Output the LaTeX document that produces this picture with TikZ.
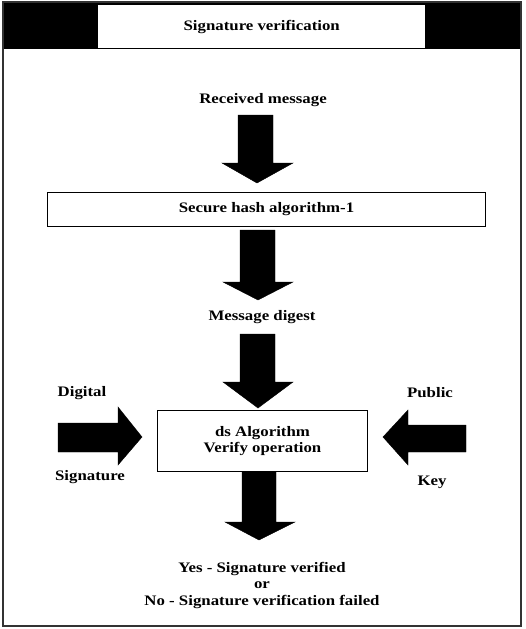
\documentclass[tikz,border=0pt]{standalone}
\usepackage{fontspec}
\setmainfont{Liberation Serif}[FakeStretch=1.16]
\begin{document}
\begin{tikzpicture}[x=1pt,y=-1pt,
  lbl/.style={font=\bfseries\fontsize{14.5}{15.5}\selectfont, inner sep=0pt, align=center},
  box/.style={draw, line width=1pt, inner sep=0pt},
  blk/.style={fill=black, draw=black, line join=miter}]
\useasboundingbox (0,0) rectangle (525,629);
% frame and title band
\fill[black] (3,2) rectangle (521,49);
\draw[line width=1.6pt, draw=black!80] (3,2) rectangle (521,626);
\node[fill=white, minimum width=327pt, minimum height=43pt, inner sep=0pt, anchor=north west] (titlebox) at (98,5) {};
\node[lbl] (title) at (titlebox.center) {Signature verification};
% texts
\node[lbl] (recv) at (263,100) {Received message};
\node[box, minimum width=438pt, minimum height=34pt, anchor=north west] (sha) at (47,192) {};
\node[lbl] at (sha.center) {Secure hash algorithm-1};
\node[lbl] (digest) at (262,317) {Message digest};
\node[box, minimum width=210pt, minimum height=61pt, anchor=north west] (ds) at (157,410) {};
\node[lbl, align=center] at ([yshift=0pt]ds.center) {ds Algorithm\\Verify operation};
\node[lbl] (digital) at (82,393) {Digital};
\node[lbl] (sig) at (90,477) {Signature};
\node[lbl] (public) at (430,393) {Public};
\node[lbl] (key) at (432,482) {Key};
\node[lbl, align=center] (result) at (262,585) {Yes - Signature verified\\[1pt]or\\[1pt]No - Signature verification failed};
% block arrows
\fill[blk] (238,115) -- (273,115) -- (273,163) -- (293,163) -- (257,183) -- (222,163) -- (238,163) -- cycle;
\fill[blk] (240,230) -- (275,230) -- (275,282) -- (293,282) -- (258,300) -- (223,282) -- (240,282) -- cycle;
\fill[blk] (240,334) -- (275,334) -- (275,382) -- (293,382) -- (258,408) -- (223,382) -- (240,382) -- cycle;
\fill[blk] (242,472) -- (276,472) -- (276,522) -- (295,522) -- (259,540) -- (225,522) -- (242,522) -- cycle;
\fill[blk] (58,423) -- (118,423) -- (118,407) -- (142,437) -- (118,465) -- (118,452) -- (58,452) -- cycle;
\fill[blk] (466,425) -- (408,425) -- (408,410) -- (383,437) -- (408,465) -- (408,452) -- (466,452) -- cycle;
\end{tikzpicture}
\end{document}
